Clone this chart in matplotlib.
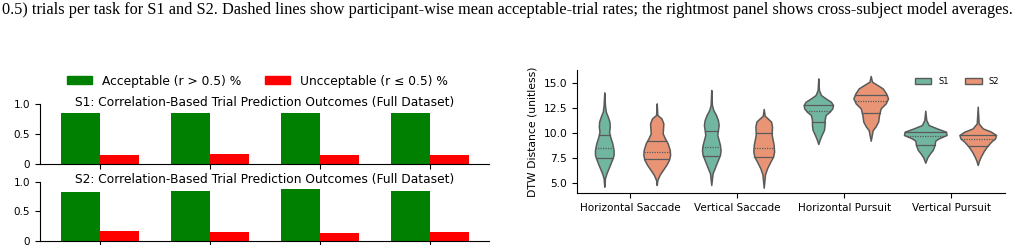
import numpy as np
import matplotlib
matplotlib.use("Agg")
import matplotlib.pyplot as plt
from matplotlib.patches import Patch
import matplotlib.ticker as mtick

# Caption fragment above the panels
caption = ("0.5) trials per task for S1 and S2. Dashed lines show participant-wise mean "
           "acceptable-trial rates; the rightmost panel shows cross-subject model averages.")

# Bar panels (fraction of trials)
tasks = ["Horizontal Saccade", "Vertical Saccade", "Horizontal Pursuit", "Vertical Pursuit"]
s1_acc = [0.85, 0.84, 0.85, 0.85]
s1_unacc = [0.15, 0.16, 0.15, 0.15]
s2_acc = [0.83, 0.85, 0.87, 0.85]
s2_unacc = [0.17, 0.15, 0.13, 0.15]

# Violin outlines: DTW level and half width (x units)
hs_s1_y = [14.03, 12.77, 12.1, 11.6, 11.1, 10.6, 10.1, 9.6, 8.93, 8.27, 7.77, 7.27, 6.6, 5.93, 5.43, 4.6]
hs_s1_w = [0, .006, .014, .033, .048, .051, .045, .055, .075, .087, .087, .071, .046, .02, .006, 0]
hs_s2_y = [12.93, 11.77, 11.6, 11.43, 10.93, 10.43, 9.93, 9.43, 8.93, 8.27, 7.77, 7.27, 6.77, 6.27, 5.77, 5.27, 4.77]
hs_s2_w = [0, .006, .025, .044, .062, .059, .056, .077, .103, .122, .125, .114, .089, .057, .026, .006, 0]
vs_s1_y = [14.27, 12.77, 12.27, 11.77, 11.27, 10.77, 10.27, 9.77, 9.27, 8.77, 8.27, 7.77, 7.27, 6.6, 5.93, 4.77]
vs_s1_w = [0, .006, .019, .044, .062, .069, .062, .056, .069, .081, .087, .081, .062, .037, .012, 0]
vs_s2_y = [12.37, 11.7, 11.43, 11.1, 10.6, 10.1, 9.77, 9.27, 8.77, 8.1, 7.6, 7.1, 6.43, 5.83, 4.5]
vs_s2_w = [0, .009, .037, .069, .078, .075, .075, .084, .093, .097, .087, .062, .031, .012, 0]
hp_s1_y = [15.43, 14.27, 13.77, 13.43, 13.1, 12.77, 12.43, 12.1, 11.77, 11.27, 10.77, 10.27, 9.77, 9.27, 8.87]
hp_s1_w = [0, .006, .025, .069, .118, .137, .131, .106, .069, .059, .059, .053, .031, .012, 0]
hp_s2_y = [15.67, 15.1, 14.77, 14.43, 13.93, 13.43, 12.93, 12.43, 11.77, 11.1, 10.6, 10.27, 9.2]
hp_s2_w = [0, .012, .062, .112, .143, .162, .14, .093, .078, .069, .044, .019, 0]
vp_s1_y = [12.2, 11.27, 10.77, 10.43, 10.1, 9.77, 9.43, 9.2, 8.77, 8.27, 7.93, 7.53, 7.0]
vp_s1_w = [0, .009, .031, .109, .193, .199, .125, .093, .087, .069, .044, .019, 0]
vp_s2_y = [12.6, 10.93, 10.43, 10.1, 9.77, 9.43, 9.1, 8.6, 8.1, 7.6, 7.2, 6.77]
vp_s2_w = [0, .009, .047, .125, .171, .162, .125, .084, .053, .028, .012, 0]

# quartiles (25, 50, 75)
s1_quart = [[7.5, 8.45, 9.8], [7.65, 8.6, 10.2], [11.1, 12.2, 12.75], [8.75, 9.65, 10.05]]
s2_quart = [[7.35, 8.1, 9.2], [7.6, 8.5, 9.95], [12.0, 13.15, 13.75], [8.7, 9.4, 9.8]]

s1_shapes = [(hs_s1_y, hs_s1_w), (vs_s1_y, vs_s1_w), (hp_s1_y, hp_s1_w), (vp_s1_y, vp_s1_w)]
s2_shapes = [(hs_s2_y, hs_s2_w), (vs_s2_y, vs_s2_w), (hp_s2_y, hp_s2_w), (vp_s2_y, vp_s2_w)]

W, H = 1020, 245
fig = plt.figure(figsize=(10.2, 2.45), dpi=100)

fig.text(2 / W, 1 - 10 / H, caption, ha='left', va='center',
         family='Liberation Serif', fontsize=11.72)


def bar_panel(rect, acc, unacc, title, title_y):
    ax = fig.add_axes(rect)
    x = np.arange(len(tasks))
    bw = 0.355
    ax.bar(x - bw / 2, acc, width=bw, color='green')
    ax.bar(x + bw / 2, unacc, width=bw, color='red')
    ax.set_xlim(-0.545, 3.536)
    ax.set_ylim(0, 1.0)
    ax.set_xticks(x)
    ax.set_xticklabels([])
    ax.set_yticks([0, 0.5, 1.0])
    ax.set_yticklabels(['0', '0.5', '1.0'])
    ax.tick_params(labelsize=7.5)
    for s in ['top', 'right']:
        ax.spines[s].set_visible(False)
    ax.text(0.5, title_y, title, transform=ax.transAxes, ha='center', va='center', fontsize=8.85)
    return ax


bar_panel([40 / W, 81.3 / H, 449 / W, 60 / H], s1_acc, s1_unacc,
          "S1: Correlation-Based Trial Prediction Outcomes (Full Dataset)", 1.017)
bar_panel([40 / W, 4 / H, 449 / W, 59.3 / H], s2_acc, s2_unacc,
          "S2: Correlation-Based Trial Prediction Outcomes (Full Dataset)", 1.04)

fig.legend(handles=[Patch(color='green', label='Acceptable (r > 0.5) %'),
                    Patch(color='red', label='Uncceptable (r \u2264 0.5) %')],
           loc='center', bbox_to_anchor=(257.5 / W, 1 - 81 / H), ncol=2,
           frameon=False, fontsize=8.85)

# Violin panel
ax = fig.add_axes([577 / W, 52 / H, 428 / W, 123 / H])
edge = '#5a5a5a'
colors = ['#71b6a0', '#e99575']  # Set2, desaturated
offsets = [-0.245, 0.245]
for j, (shapes, quarts) in enumerate([(s1_shapes, s1_quart), (s2_shapes, s2_quart)]):
    for i, (ys, ws) in enumerate(shapes):
        xc = i + offsets[j]
        ys = np.array(ys)
        ws = np.array(ws)
        ax.fill_betweenx(ys, xc - ws, xc + ws, facecolor=colors[j], edgecolor=edge, lw=1.1, zorder=2)
        for k, q in enumerate(quarts[i]):
            hw = np.interp(q, ys[::-1], ws[::-1])
            ls = (0, (1, 1)) if k == 1 else '-'
            ax.plot([xc - hw, xc + hw], [q, q], color=edge, lw=0.9, ls=ls, zorder=3)

ax.set_xlim(-0.5, 3.5)
ax.set_ylim(3.97, 16.27)
ax.set_xticks(range(len(tasks)))
ax.set_xticklabels(tasks)
ax.set_yticks([5, 7.5, 10, 12.5, 15])
ax.yaxis.set_major_formatter(mtick.FormatStrFormatter('%.1f'))
ax.tick_params(labelsize=7.5)
ax.tick_params(axis='y', labelsize=7.7)
ax.set_ylabel('DTW Distance (unitless)', fontsize=7.8)
for s in ['top', 'right']:
    ax.spines[s].set_visible(False)

fig.legend(handles=[Patch(facecolor=colors[0], edgecolor=edge, label='S1'),
                    Patch(facecolor=colors[1], edgecolor=edge, label='S2')],
           loc='center', bbox_to_anchor=(957 / W, 1 - 81.3 / H), ncol=2,
           frameon=False, fontsize=6)

fig.savefig('out.png', dpi=100)
